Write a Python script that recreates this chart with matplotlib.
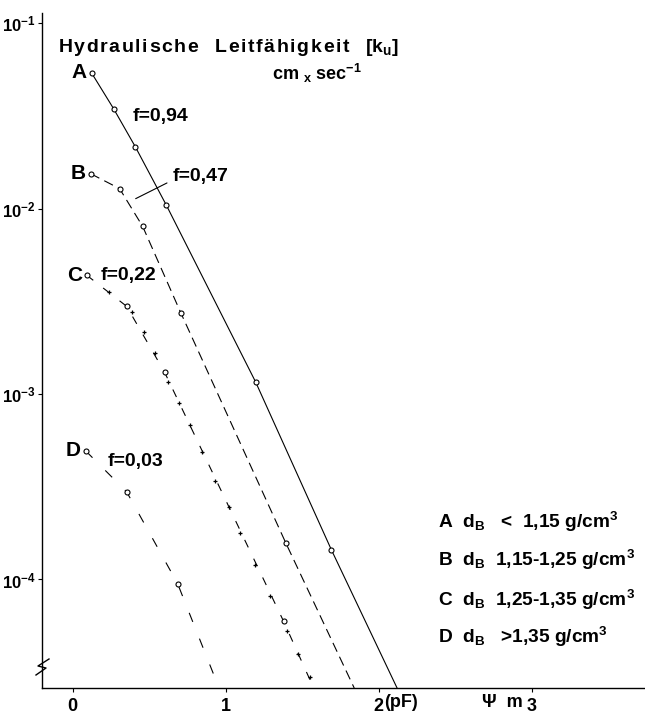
import numpy as np
import matplotlib.pyplot as plt

plt.rcParams['font.family'] = ['Liberation Sans', 'DejaVu Sans']
plt.rcParams['mathtext.default'] = 'regular'
plt.rcParams['lines.scale_dashes'] = False


# ============================================================================
# Data (x: pF, y: k_u in cm/sec)
# ============================================================================
a_x = [0.124, 0.268, 0.41, 0.613, 1.196, 1.69]
a_y = [0.0538, 0.0345, 0.0215, 0.0104, 1.16e-3, 1.45e-4]
a_end = (2.12, 2.6e-5)

b_x = [0.118, 0.307, 0.458, 0.706, 1.392]
b_y = [0.0154, 0.0128, 0.008, 2.75e-3, 1.58e-4]
b_end = (1.84, 2.6e-5)

c_x = [0.092, 0.353, 0.601, 1.379]
c_y = [4.37e-3, 2.97e-3, 1.31e-3, 5.94e-5]
c_end = (1.575, 2.6e-5)
c_cross_x = [0.235, 0.386, 0.464, 0.536, 0.621, 0.693, 0.765, 0.843,
             0.928, 1.020, 1.092, 1.190, 1.288, 1.399, 1.471, 1.549]
c_cross_y = [3.53e-3, 2.76e-3, 2.15e-3, 1.66e-3, 1.16e-3, 8.95e-4, 6.81e-4, 4.88e-4,
             3.40e-4, 2.47e-4, 1.79e-4, 1.20e-4, 8.1e-5, 5.3e-5, 3.95e-5, 2.97e-5]

d_x = [0.085, 0.353, 0.686]
d_y = [4.94e-4, 2.97e-4, 9.5e-5]
d_end = (0.92, 3.1e-5)

curve_names = ['A', 'B', 'C', 'D']
f_labels = ['f=0,94', 'f=0,47', 'f=0,22', 'f=0,03']
f_pos = [(0.392, 0.0313), (0.654, 0.0149), (0.183, 4.37e-3), (0.229, 4.3e-4)]
legend_lines = [
    r'A  d$_{B}$   <  1,15 g/cm$^{3}$',
    r'B  d$_{B}$  1,15-1,25 g/cm$^{3}$',
    r'C  d$_{B}$  1,25-1,35 g/cm$^{3}$',
    r'D  d$_{B}$   >1,35 g/cm$^{3}$',
]
legend_y_px = [522, 560, 600, 637]

x_ticks = [0, 1, 2, 3]
y_ticks = [1e-4, 1e-3, 1e-2, 1e-1]
y_labels = ['10$^{-4}$', '10$^{-3}$', '10$^{-2}$', '10$^{-1}$']


# ============================================================================
# Plot
# ============================================================================
fig = plt.figure(figsize=(6.45, 7.14), dpi=100)
ax = fig.add_axes([42 / 645, 26 / 714, 603 / 645, 675 / 714])
ax.set_yscale('log')
ax.set_xlim(-0.2, 3.74)
ax.set_ylim(2.6e-5, 10 ** -0.946)

lw = 0.8
mk = dict(marker='o', markersize=3.6, markerfacecolor='white',
          markeredgecolor='black', markeredgewidth=0.8, linestyle='none', zorder=3)

# A solid
ax.plot(a_x + [a_end[0]], a_y + [a_end[1]], color='black', lw=lw, clip_on=False)
ax.plot(a_x, a_y, **mk)

# B dashed
ax.plot(b_x + [b_end[0]], b_y + [b_end[1]], color='black', lw=lw,
        dashes=(7, 4), clip_on=False)
ax.plot(b_x, b_y, **mk)

# C dashed with crosses
ax.plot(c_x + [c_end[0]], c_y + [c_end[1]], color='black', lw=lw,
        dashes=(6, 9), clip_on=False)
ax.plot(c_cross_x, c_cross_y, marker='+', markersize=3.5, markeredgewidth=0.9,
        color='black', linestyle='none')
ax.plot(c_x, c_y, **mk)

# D sparse dashes
ax.plot(d_x + [d_end[0]], d_y + [d_end[1]], color='black', lw=lw,
        dashes=(7, 13))
ax.plot(d_x, d_y, **mk)

# curve letters and f labels
firsts = [(a_x[0], a_y[0]), (b_x[0], b_y[0]), (c_x[0], c_y[0]), (d_x[0], d_y[0])]
for name, (x0, y0) in zip(curve_names, firsts):
    ax.annotate(name, (x0, y0), xytext=(-3.5, 0), textcoords='offset points',
                ha='right', va='center', fontsize=15, fontweight='bold')

for i, (lab, (fx, fy)) in enumerate(zip(f_labels, f_pos)):
    if i == 1:
        ax.annotate(lab, xy=(0.412, 0.0113), xytext=(fx, fy), ha='left', va='center',
                    fontsize=14, fontweight='bold',
                    arrowprops=dict(arrowstyle='-', lw=0.8, color='black',
                                    shrinkA=1, shrinkB=0, relpos=(-0.08, 0.15)))
    else:
        ax.text(fx, fy, lab, ha='left', va='center', fontsize=14, fontweight='bold')

# title texts (slightly letter-spaced like the original)
title = '\u200a'.join('Hydraulische') + '   ' + '\u200a'.join('Leitfähigkeit') + '   [k$_{u}$]'
ax.text((58 - 42) / 603, (688 - 48) / 675, title,
        transform=ax.transAxes, ha='left', va='center', fontsize=14, fontweight='bold')
ax.text((272 - 42) / 603, (688 - 73) / 675, r'cm $_{x}$ sec$^{-1}$',
        transform=ax.transAxes, ha='left', va='center', fontsize=13, fontweight='bold')

# legend block
for line, py in zip(legend_lines, legend_y_px):
    ax.text((438 - 42) / 603, (688 - py) / 675, line,
            transform=ax.transAxes, ha='left', va='center', fontsize=13.8,
            fontweight='bold')

# axes styling
for s in ['top', 'right']:
    ax.spines[s].set_visible(False)
for s in ['left', 'bottom']:
    ax.spines[s].set_linewidth(1.0)

ax.set_xticks(x_ticks)
ax.set_xticklabels(['0', '1', '2', '3'], fontsize=13, fontweight='bold')
ax.set_yticks(y_ticks)
ax.set_yticklabels(y_labels, fontsize=12, fontweight='bold')
ax.yaxis.set_minor_locator(plt.NullLocator())
ax.tick_params(axis='both', direction='out', length=3, width=0.8, pad=1.5)
ax.tick_params(axis='x', pad=4)

# extra axis texts
trans = ax.get_xaxis_transform()
ax.text(2.035, -0.0086, '(pF)', transform=trans, ha='left', va='top',
        fontsize=13, fontweight='bold')
ax.text(2.94, -0.0086, 'Ψ  m', transform=trans, ha='right', va='top',
        fontsize=13, fontweight='bold')

# axis break mark
bx = np.array([36, 46, 38, 49]) - 42
by = np.array([675, 668, 666, 659])
ax.plot(bx / 603, (688 - by) / 675, color='black', lw=1.0,
        transform=ax.transAxes, clip_on=False)

fig.savefig('out.png', dpi=100)
